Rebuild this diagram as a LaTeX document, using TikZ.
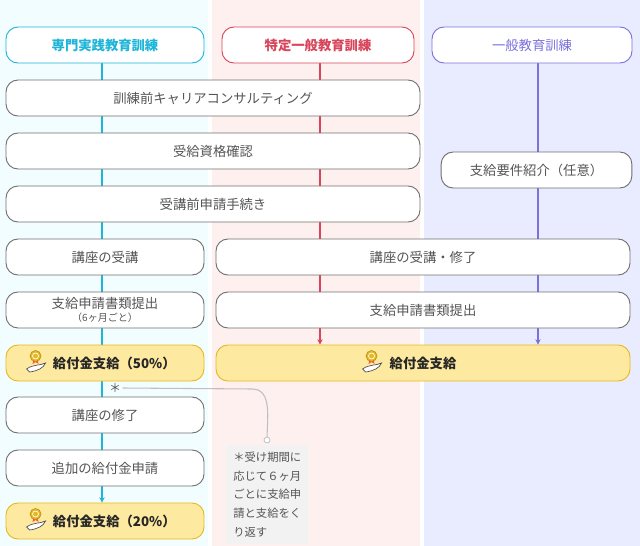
\documentclass[tikz,border=0pt]{standalone}
\usepackage{fontspec}
\setmainfont{Noto Sans CJK JP}
\usetikzlibrary{positioning, backgrounds, arrows.meta}
\definecolor{bgcyan}{HTML}{F2FDFF}
\definecolor{bgpink}{HTML}{FFF0F0}
\definecolor{bgblue}{HTML}{E8ECFE}
\definecolor{cyanline}{HTML}{1FB5D8}
\definecolor{redline}{HTML}{D8455A}
\definecolor{blueline}{HTML}{7B70DC}
\definecolor{boxgray}{HTML}{707070}
\definecolor{textgray}{HTML}{555555}
\definecolor{payfill}{HTML}{FDEAA0}
\definecolor{payline}{HTML}{E8B820}
\tikzset{
    stepbox/.style = {draw=boxgray, fill=white, rounded corners=9pt, line width=0.7pt,
        minimum height=27pt, text=textgray, font=\fontsize{10}{12}\selectfont},
    headbox/.style = {stepbox, text=#1, draw=#1},
    paybox/.style = {stepbox, fill=payfill, draw=payline, text=black!85},
    flow/.style = {line width=0.8pt, -{Stealth[length=4pt,width=4pt]}}
}
\begin{document}
\begin{tikzpicture}[x=0.75pt, y=-0.75pt]
    \useasboundingbox (0,0) rectangle (640,546);

    % Headers
    \node[headbox=cyanline, minimum width=148.5pt] (hSpec) at (105,45) {\bfseries 専門実践教育訓練};
    \node[headbox=redline, minimum width=144pt] (hSpecGen) at (318,45) {\bfseries 特定一般教育訓練};
    \node[headbox=blueline, minimum width=150pt] (hGen) at (532,45) {一般教育訓練};

    % Shared steps
    \node[stepbox, minimum width=310.5pt] (career) at (213,98) {訓練前キャリアコンサルティング};
    \node[stepbox, minimum width=310.5pt] (check) at (213,151) {受給資格確認};
    \node[stepbox, minimum width=310.5pt] (apply) at (213,204) {受講前申請手続き};
    \node[stepbox, minimum width=143pt] (intro) at (536.5,170) {支給要件紹介（任意）};

    % Left column steps
    \node[stepbox, minimum width=148.5pt] (take) at (105,257) {講座の受講};
    \node[stepbox, minimum width=148.5pt, align=center] (docsL) at (105,310)
        {支給申請書類提出\\[-2pt]{\fontsize{7.5}{9}\selectfont（6ヶ月ごと）}};
    \node[paybox, minimum width=148.5pt] (pay50) at (105,363) {\hspace{14pt}\bfseries 給付金支給（50\%）};
    \node[stepbox, minimum width=148.5pt] (finish) at (105,415) {講座の修了};
    \node[stepbox, minimum width=148.5pt] (extra) at (105,468) {追加の給付金申請};
    \node[paybox, minimum width=148.5pt] (pay20) at (105,521) {\hspace{14pt}\bfseries 給付金支給（20\%）};

    % Right steps
    \node[stepbox, minimum width=310.5pt] (takeR) at (423,257) {講座の受講・修了};
    \node[stepbox, minimum width=310.5pt] (docsR) at (423,310) {支給申請書類提出};
    \node[paybox, minimum width=310.5pt] (payR) at (423,363) {\bfseries 給付金支給};

    % Background columns and flow lines
    \begin{pgfonlayer}{background}
        \fill[bgcyan] (0,0) rectangle (208,546);
        \fill[bgpink] (212,0) rectangle (420,546);
        \fill[bgblue] (424,0) rectangle (640,546);
        \draw[cyanline, line width=0.8pt] ([xshift=-2.25pt]hSpec.south) -- ([xshift=-2.25pt]pay50.north);
        \draw[cyanline, flow] ([xshift=-2.25pt]pay50.south) -- ([xshift=-2.25pt]pay20.north);
        \draw[redline, flow] ([xshift=1.5pt]hSpecGen.south) -- ([xshift=1.5pt]payR.north -| hSpecGen);
        \draw[blueline, flow] ([xshift=4.5pt]hGen.south) -- ([xshift=4.5pt]payR.north -| hGen);
    \end{pgfonlayer}

    % Note
    \node[fill=black!5, text=textgray, align=left, inner sep=5pt, minimum width=61.5pt,
        minimum height=69pt, font=\fontsize{8.5}{14}\selectfont, anchor=north west] (note) at (226,445)
        {＊受け期間に\\応じて６ヶ月\\ごとに支給申\\請と支給をく\\り返す};
    \node[text=textgray, font=\small, inner sep=1pt] (star) at (115,388) {＊};
    \coordinate (noteTop) at (267,440);
    \draw[black!25, line width=0.8pt] (star.east) -- (252,389) to[out=0, in=90] (noteTop);
    \draw[black!25, fill=white, line width=0.6pt] (noteTop) circle (3);

    % Icons: hand holding a medal
    \foreach \Pay/\dx in {pay50/30, pay20/30, payR/156}{
        \begin{scope}[shift={(\Pay.west)}, xshift=\dx*0.75pt]
            \draw[black!70, fill=white, line width=0.5pt] (-9,6) .. controls (-2,1) and (4,3) .. (10,0)
                .. controls (8,5) and (2,8) .. (-6,9) -- cycle;
            \fill[red!70] (-2,-3) -- (-3,1) -- (0,-1) -- (3,1) -- (2,-3) -- cycle;
            \draw[payline!80!black, fill=payline, line width=0.5pt] (0,-7) circle (5.5);
            \draw[white, line width=0.5pt] (0,-7) circle (3);
        \end{scope}
    }
\end{tikzpicture}
\end{document}
